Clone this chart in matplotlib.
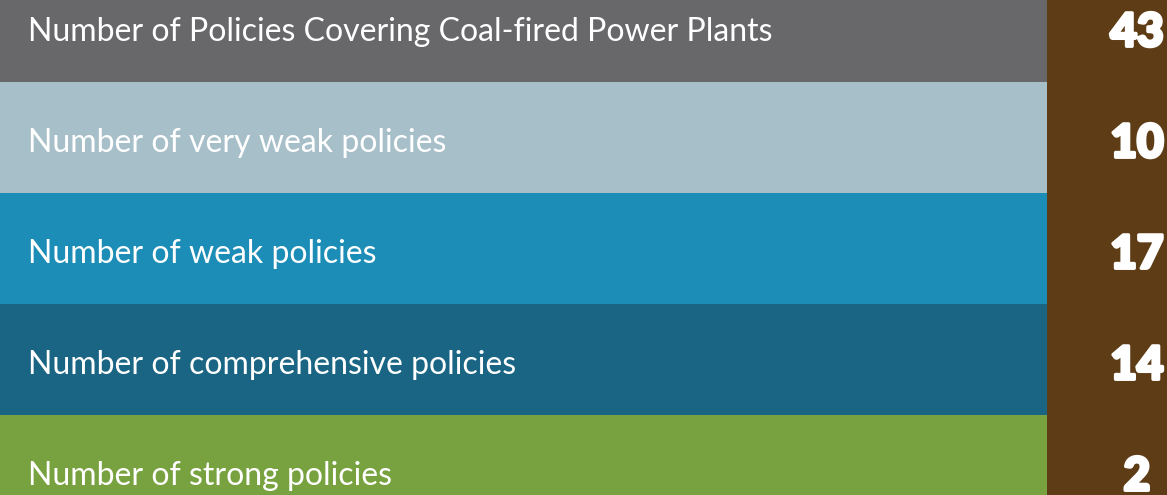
import matplotlib
matplotlib.use('Agg')
import matplotlib.pyplot as plt
import matplotlib.patheffects as pe

labels = ['Number of Policies Covering Coal-fired Power Plants',
          'Number of very weak policies',
          'Number of weak policies',
          'Number of comprehensive policies',
          'Number of strong policies']
values = [43, 10, 17, 14, 2]
colors = ['#68686b', '#a7bfc9', '#1c8db7', '#1a6584', '#78a240']
brown = '#5e3c16'

fig = plt.figure(figsize=(11.67, 4.95), dpi=100)
ax = fig.add_axes([0, 0, 1, 1])

rows = range(len(labels))
ax.barh(rows, 1047, left=0, height=1.0, color=colors, align='edge')
ax.barh(rows, 200, left=1047, height=1.0, color=brown, align='edge')

heavy = [pe.withStroke(linewidth=2.5, foreground='white')]
for i, (lab, v) in enumerate(zip(labels, values)):
    ax.text(28, i + 0.63, lab, color='white', fontsize=23, family='Lato',
            fontweight='normal', va='baseline', ha='left')
    ax.text(1137, i + 0.56, str(v), color='white', fontsize=33, family='Lato',
            fontweight='black', va='center', ha='center', path_effects=heavy)

ax.set_xlim(0, 1167)
ax.set_ylim(4.72, 0.261)
ax.axis('off')

fig.savefig('out.png', dpi=100)
